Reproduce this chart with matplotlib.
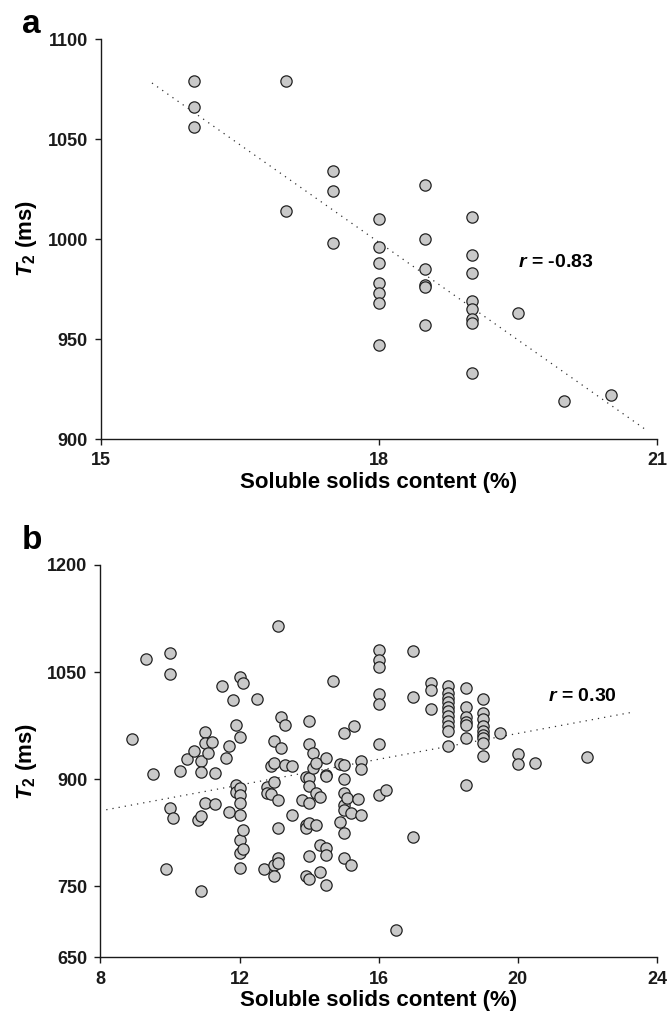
import numpy as np
import matplotlib
matplotlib.use('Agg')
import matplotlib.pyplot as plt

plt.rcParams['font.family'] = ['Liberation Sans', 'DejaVu Sans']
plt.rcParams['font.weight'] = 'bold'
plt.rcParams['mathtext.fontset'] = 'custom'
plt.rcParams['mathtext.it'] = 'Liberation Sans:italic:bold'
plt.rcParams['mathtext.rm'] = 'Liberation Sans:bold'

# panel a data (soluble solids %, T2 ms)
ssc_a = [16.0, 16.0, 16.0, 17.0, 17.0, 17.5, 17.5, 17.5,
         18.0, 18.0, 18.0, 18.0, 18.0, 18.0, 18.0,
         18.5, 18.5, 18.5, 18.5, 18.5, 18.5,
         19.0, 19.0, 19.0, 19.0, 19.0, 19.0, 19.0, 19.0,
         19.5, 20.0, 20.5]
t2_a = [1079, 1066, 1056, 1079, 1014, 1034, 1024, 998,
        1010, 996, 988, 978, 973, 968, 947,
        1027, 1000, 985, 977, 976, 957,
        1011, 992, 983, 969, 965, 960, 958, 933,
        963, 919, 922]
trend_a_x = [15.55, 20.9]
trend_a_y = [1078, 904]

# panel b data, grouped by SSC value
groups_b = {
    8.9: [956], 9.3: [1068], 9.5: [907], 9.9: [774],
    10.0: [1077, 1047, 860], 10.1: [845], 10.3: [911], 10.5: [928],
    10.7: [939], 10.8: [842], 10.9: [926, 910, 848, 743],
    11.0: [966, 951, 867], 11.1: [936], 11.2: [952], 11.3: [908, 865],
    11.5: [1030], 11.6: [929], 11.7: [947, 854], 11.8: [1011],
    11.9: [976, 891, 882],
    12.0: [1043, 959, 888, 878, 867, 849, 814, 797, 775],
    12.1: [1035, 828, 802], 12.5: [1012], 12.7: [774], 12.8: [889, 881],
    12.9: [918, 879], 13.0: [953, 922, 896, 779, 764],
    13.1: [1115, 871, 831, 789, 782], 13.2: [987, 943], 13.3: [976, 920],
    13.5: [918, 850], 13.8: [871], 13.9: [903, 835, 831, 764],
    14.0: [982, 949, 902, 890, 867, 838, 792, 760],
    14.1: [937, 916], 14.2: [923, 880, 836], 14.3: [875, 807, 770],
    14.5: [930, 906, 904, 803, 794, 752], 14.7: [1037], 14.9: [921, 840],
    15.0: [964, 920, 900, 880, 863, 856, 824, 790], 15.1: [874],
    15.2: [852, 779], 15.3: [975], 15.4: [872], 15.5: [926, 914, 849],
    16.0: [1081, 1067, 1057, 1019, 1005, 949, 878], 16.2: [884],
    16.5: [688], 17.0: [1080, 1015, 819], 17.5: [1035, 1025, 998],
    18.0: [1030, 1020, 1014, 1008, 1001, 995, 988, 982, 974, 968, 947],
    18.5: [1028, 1001, 987, 980, 976, 957, 891],
    19.0: [1012, 992, 984, 974, 968, 962, 957, 951, 933],
    19.5: [964], 20.0: [935, 921], 20.5: [923], 22.0: [931],
}
ssc_b = [k for k, v in groups_b.items() for _ in v]
t2_b = [y for v in groups_b.values() for y in v]
trend_b_x = [8.17, 23.22]
trend_b_y = [857, 993]

fig = plt.figure(figsize=(6.69, 10.13), dpi=100)
ax1 = fig.add_axes([0.151, 0.5666, 0.831, 0.3949])
ax2 = fig.add_axes([0.150, 0.0548, 0.832, 0.3875])


def style(ax):
    for s in ['top', 'right']:
        ax.spines[s].set_visible(False)
    for s in ['left', 'bottom']:
        ax.spines[s].set_linewidth(1.0)
        ax.spines[s].set_color('#1a1a1a')
    ax.tick_params(length=4.5, width=1.0, pad=5, labelsize=13, colors='#1a1a1a')
    for lab in ax.get_xticklabels() + ax.get_yticklabels():
        lab.set_fontweight('bold')
    ax.set_xlabel('Soluble solids content (%)', fontsize=16, fontweight='bold', labelpad=2)
    ax.set_ylabel(r'$T_2$ (ms)', fontsize=16, fontweight='bold', labelpad=6)


mk = dict(s=66, facecolor='#c9c9c9', edgecolor='#222222', linewidths=0.9, zorder=3)
dots = dict(color='#333333', lw=0.9, linestyle=(0, (1, 4)), zorder=2)

ax1.plot(trend_a_x, trend_a_y, **dots)
ax1.scatter(ssc_a, t2_a, **mk)
ax1.set_xlim(15, 21)
ax1.set_ylim(900, 1100)
ax1.set_xticks([15, 18, 21])
ax1.set_yticks([900, 950, 1000, 1050, 1100])
style(ax1)
ax1.text(19.5, 988.5, r'$r$ = -0.83', fontsize=14, fontweight='bold', va='center', ha='left')

ax2.plot(trend_b_x, trend_b_y, **dots)
ax2.scatter(ssc_b, t2_b, **mk)
ax2.set_xlim(8, 24)
ax2.set_ylim(650, 1200)
ax2.set_xticks([8, 12, 16, 20, 24])
ax2.set_yticks([650, 750, 900, 1050, 1200])
style(ax2)
ax2.text(20.86, 1015.5, r'$r$ = 0.30', fontsize=14, fontweight='bold', va='center', ha='left')

fig.text(0.033, 0.976, 'a', fontsize=24, fontweight='bold', va='center', ha='left')
fig.text(0.033, 0.466, 'b', fontsize=24, fontweight='bold', va='center', ha='left')

fig.savefig('out.png', dpi=100)
